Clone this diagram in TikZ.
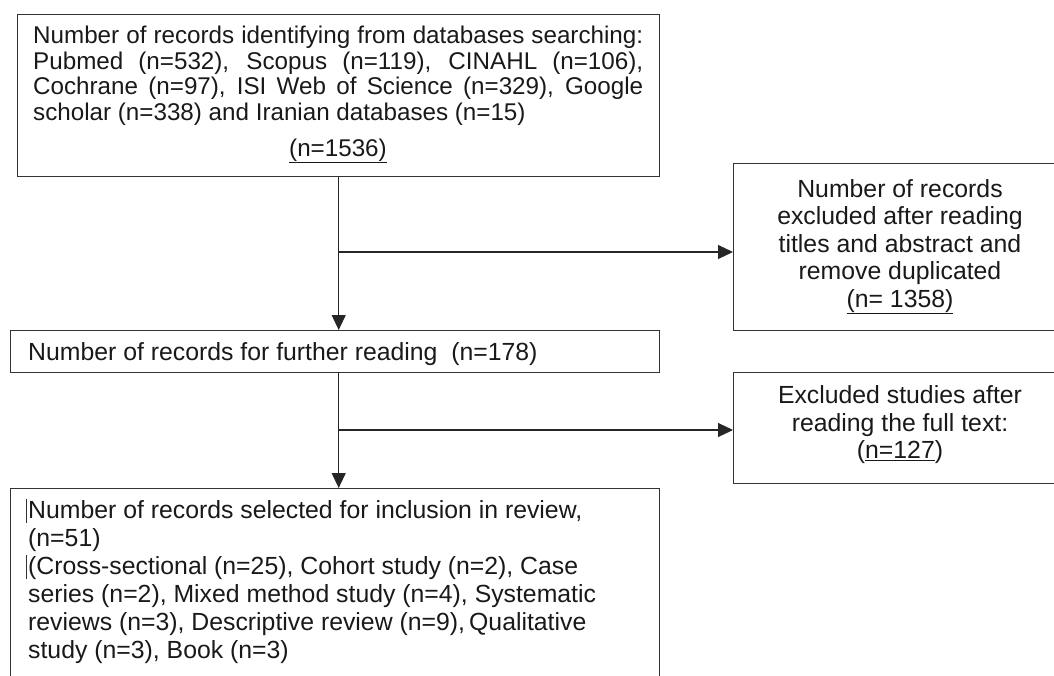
\documentclass[tikz,border=0pt]{standalone}
\usepackage{fontspec}
\setmainfont{Liberation Sans}
\usetikzlibrary{arrows.meta}
\begin{document}
\begin{tikzpicture}[x=1pt,y=-1pt,
  box/.style={draw=black!80, line width=1.4pt, inner sep=0pt, anchor=north west},
  link/.style={draw=black!85, line width=1.1pt},
  arr/.style={link, -{Triangle[length=15pt,width=14pt]}},
  smalltxt/.style={font=\fontsize{24.2}{25.5}\selectfont, inner sep=0pt, text=black!90},
  bigtxt/.style={font=\fontsize{24.8}{28}\selectfont, inner sep=0pt, text=black!90},
  cursor/.style={draw=black!80, line width=1.6pt}
]
\clip (0,0) rectangle (1054,675);
% boxes
\node[box, minimum width=642pt, minimum height=162pt] (b1) at (17,14) {};
\node[box, minimum width=649pt, minimum height=42pt] (b2) at (10,330) {};
\node[box, minimum width=649pt, minimum height=220pt] (b3) at (10,488) {};
\node[box, minimum width=360pt, minimum height=167pt] (r1) at (733,163) {};
\node[box, minimum width=360pt, minimum height=111pt] (r2) at (733,372) {};
% junctions
\coordinate (h1) at (0,252);
\coordinate (h2) at (0,430);
\coordinate (j1) at (b1.south |- h1);
\coordinate (j2) at (b1.south |- h2);
% connectors
\draw[arr] (b1.south) -- (b1.south |- b2.north);
\draw[arr] (j1) -- (j1 -| r1.west);
\draw[arr] (b1.south |- b2.south) -- (b1.south |- b3.north);
\draw[arr] (j2) -- (j2 -| r2.west);
% box 1 text
\node[smalltxt, anchor=base west] (t1a) at (33,43.5) {\makebox[610pt][s]{Number of records identifying from databases searching:}};
\node[smalltxt, anchor=base west] (t1b) at (33,69) {\makebox[610pt][s]{Pubmed (n=532), Scopus (n=119), CINAHL (n=106),}};
\node[smalltxt, anchor=base west] (t1c) at (33,94.5) {\makebox[610pt][s]{Cochrane (n=97), ISI Web of Science (n=329), Google}};
\node[smalltxt, anchor=base west] (t1d) at (33,120) {scholar (n=338) and Iranian databases (n=15)};
\node[smalltxt, anchor=base] (t1e) at (338,156) {\underline{(n=1536)}};
% box 2 text
\node[bigtxt, anchor=base west] (t2) at (28,360) {Number of records for further reading\ \ (n=178)};
% right box 1 text
\node[bigtxt, anchor=base] (r1a) at (900,197) {Number of records};
\node[bigtxt, anchor=base] (r1b) at (900,224.5) {excluded after reading};
\node[bigtxt, anchor=base] (r1c) at (900,252) {titles and abstract and};
\node[bigtxt, anchor=base] (r1d) at (900,279.5) {remove duplicated};
\node[bigtxt, anchor=base] (r1e) at (900,307) {\underline{(n= 1358)}};
% right box 2 text
\node[bigtxt, anchor=base] (r2a) at (900,403.5) {Excluded studies after};
\node[bigtxt, anchor=base] (r2b) at (900,431) {reading the full text:};
\node[bigtxt, anchor=base] (r2c) at (900,458.5) {(\underline{n=127})};
% bottom box text
\node[bigtxt, anchor=base west] (t3a) at (28,518) {Number of records selected for inclusion in review,};
\node[bigtxt, anchor=base west] (t3b) at (28,546) {(n=51)};
\node[bigtxt, anchor=base west] (t3c) at (28,574) {(Cross-sectional (n=25), Cohort study (n=2), Case};
\node[bigtxt, anchor=base west] (t3d) at (28,602) {series (n=2), Mixed method study (n=4), Systematic};
\node[bigtxt, anchor=base west] (t3e) at (28,630) {reviews (n=3), Descriptive review (n=9),\,Qualitative};
\node[bigtxt, anchor=base west] (t3f) at (28,658) {study (n=3), Book (n=3)};
% text cursor marks
\draw[cursor] (26.5,499) -- (26.5,523);
\draw[cursor] (26.5,555) -- (26.5,579);
\end{tikzpicture}
\end{document}
